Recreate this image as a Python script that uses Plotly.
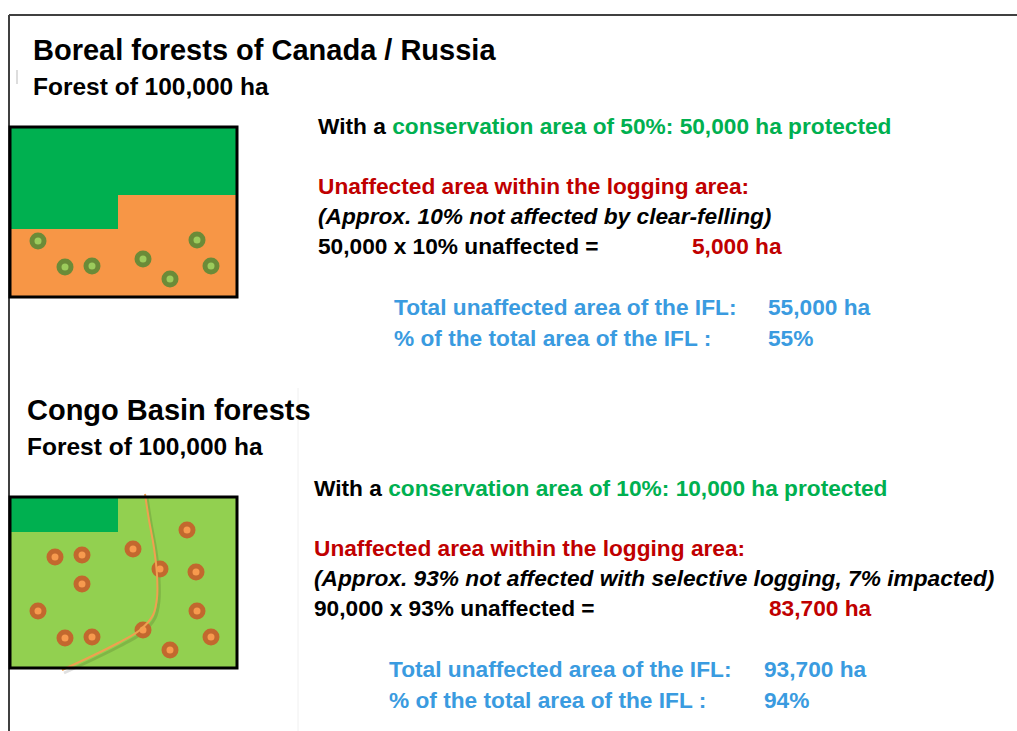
import plotly.graph_objects as go

# ---- data ----
boreal_tree_x = [38, 65, 92, 143, 170, 197, 211]
boreal_tree_y = [241, 267, 266, 259, 279, 240, 266]
congo_tree_x = [55, 82, 82, 38, 65, 92, 133, 160, 143, 170, 187, 196, 197, 211]
congo_tree_y = [557, 555, 584, 611, 638, 637, 549, 569, 630, 650, 530, 572, 611, 637]
road_x = [145, 149, 154, 157, 157, 153, 140, 118, 92, 62]
road_y = [494, 520, 548, 575, 598, 615, 630, 643, 656, 670]

GREEN = "#00B050"
RED = "#C00000"
BLUE = "#3A9BE0"
BLACK = "#000000"
FONT = "Liberation Sans, Arial, sans-serif"
BODY = 22.7

fig = go.Figure()

shapes = []
# frame lines
shapes.append(dict(type="line", x0=9, x1=1017, y0=15, y1=15, line=dict(color="#404040", width=2)))
shapes.append(dict(type="line", x0=9, x1=9, y0=15, y1=731, line=dict(color="#404040", width=2)))
shapes.append(dict(type="line", x0=17, x1=17, y0=70, y1=84, line=dict(color="#bbbbbb", width=1)))
shapes.append(dict(type="line", x0=298, x1=298, y0=388, y1=731, line=dict(color="#f0f0f0", width=1)))

# boreal box
shapes.append(dict(type="rect", x0=10, x1=237, y0=127, y1=297, fillcolor="#F79646", line=dict(width=0), layer="below"))
shapes.append(dict(type="path", path="M 10 127 L 237 127 L 237 195 L 118 195 L 118 229 L 10 229 Z",
                   fillcolor=GREEN, line=dict(width=0), layer="below"))
shapes.append(dict(type="rect", x0=10, x1=237, y0=127, y1=297, line=dict(color="black", width=3)))

# congo box
shapes.append(dict(type="rect", x0=10, x1=237, y0=497, y1=668, fillcolor="#92D050", line=dict(width=0), layer="below"))
shapes.append(dict(type="rect", x0=10, x1=118, y0=497, y1=532, fillcolor=GREEN, line=dict(width=0), layer="below"))

# road shadow
fig.add_trace(go.Scatter(x=[v + 2 for v in road_x], y=[v + 3 for v in road_y], mode="lines",
                         line=dict(color="rgba(0,0,0,0.12)", width=3, shape="spline"), hoverinfo="skip"))

for tx, ty, oc, ic in [(boreal_tree_x, boreal_tree_y, "#6B8B38", "#9CCB5C"),
                       (congo_tree_x, congo_tree_y, "#C2682E", "#F79A4E")]:
    fig.add_trace(go.Scatter(x=tx, y=ty, mode="markers",
                             marker=dict(size=17, color=oc, line=dict(width=0)), hoverinfo="skip"))
    fig.add_trace(go.Scatter(x=tx, y=ty, mode="markers",
                             marker=dict(size=7, color=ic, line=dict(width=0)), hoverinfo="skip"))

fig.add_trace(go.Scatter(x=road_x, y=road_y, mode="lines",
                         line=dict(color="#F0A050", width=2, shape="spline"), hoverinfo="skip"))

shapes.append(dict(type="rect", x0=10, x1=237, y0=497, y1=668, line=dict(color="black", width=3)))

ann = []
def txt(x, y, s, size=BODY, color=BLACK):
    ann.append(dict(x=x, y=y, text=s, showarrow=False, xanchor="left", yanchor="middle",
                    font=dict(family=FONT, size=size, color=color)))

def g(s):
    return f"<span style='color:{GREEN}'>{s}</span>"

# Boreal section
txt(31, 50, "<b>Boreal forests of Canada / Russia</b>", 29)
txt(31, 86, "<b>Forest of 100,000 ha</b>", 24.5)
txt(316, 126, "<b>With a " + g("conservation area of 50%: 50,000 ha protected") + "</b>")
txt(316, 186, "<b>Unaffected area within the logging area:</b>", color=RED)
txt(316, 216, "<b><i>(Approx. 10% not affected by clear-felling)</i></b>")
txt(316, 246, "<b>50,000 x 10% unaffected =</b>")
txt(690, 246, "<b>5,000 ha</b>", color=RED)
txt(392, 307, "<b>Total unaffected area of the IFL:</b>", color=BLUE)
txt(766, 307, "<b>55,000 ha</b>", color=BLUE)
txt(392, 338, "<b>% of the total area of the IFL :</b>", color=BLUE)
txt(766, 338, "<b>55%</b>", color=BLUE)

# Congo section
txt(25, 410, "<b>Congo Basin forests</b>", 29)
txt(25, 446, "<b>Forest of 100,000 ha</b>", 24.5)
txt(312, 488, "<b>With a " + g("conservation area of 10%: 10,000 ha protected") + "</b>")
txt(312, 548, "<b>Unaffected area within the logging area:</b>", color=RED)
txt(312, 578, "<b><i>(Approx. 93% not affected with selective logging, 7% impacted)</i></b>")
txt(312, 608, "<b>90,000 x 93% unaffected =</b>")
txt(767, 608, "<b>83,700 ha</b>", color=RED)
txt(387, 669, "<b>Total unaffected area of the IFL:</b>", color=BLUE)
txt(762, 669, "<b>93,700 ha</b>", color=BLUE)
txt(387, 700, "<b>% of the total area of the IFL :</b>", color=BLUE)
txt(762, 700, "<b>94%</b>", color=BLUE)

fig.update_layout(
    width=1017, height=731,
    margin=dict(l=0, r=0, t=0, b=0),
    paper_bgcolor="white", plot_bgcolor="white",
    showlegend=False,
    shapes=shapes, annotations=ann,
    xaxis=dict(range=[0, 1017], visible=False, fixedrange=True),
    yaxis=dict(range=[731, 0], visible=False, fixedrange=True),
)

fig.write_html("out.html", config={"displayModeBar": False},
               post_script="document.body.style.margin='0';document.body.style.overflow='hidden';")
